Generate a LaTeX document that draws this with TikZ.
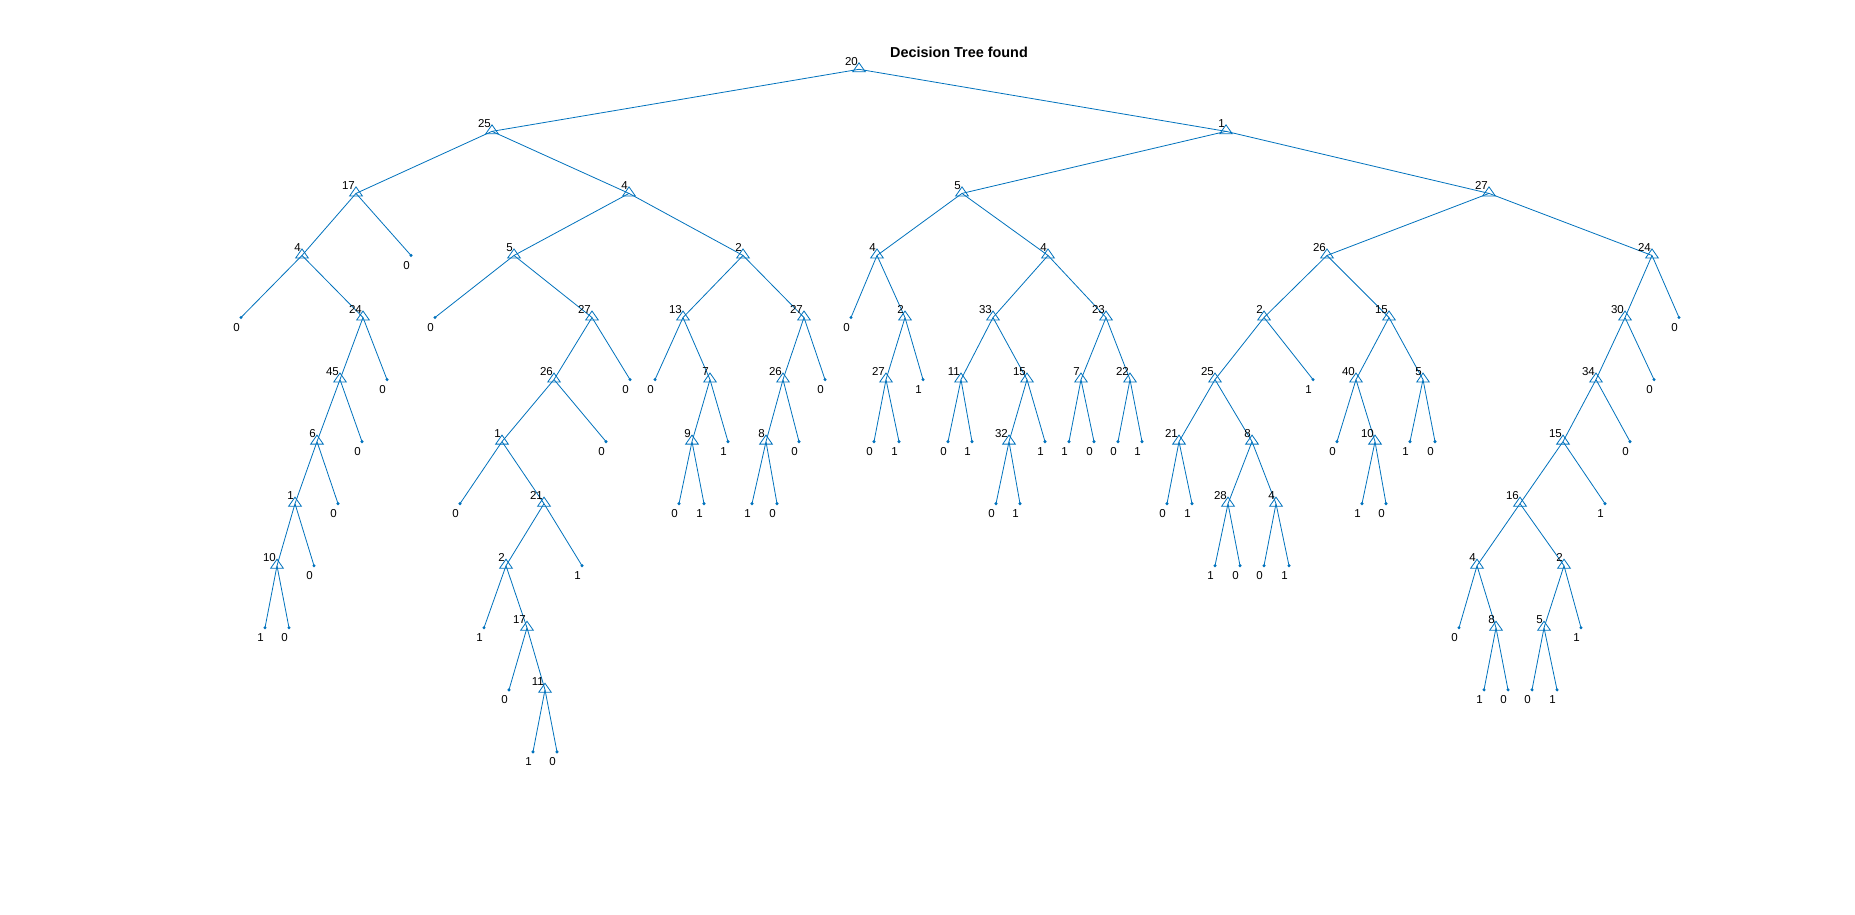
\documentclass[tikz,border=0pt]{standalone}
\usepackage{fontspec}
\setmainfont{Liberation Sans}
\definecolor{mblue}{RGB}{0,114,189}
\tikzset{
  edge/.style={draw=mblue, line width=0.8pt},
  trimark/.style={draw=mblue, line width=0.8pt, line join=miter},
  dotmark/.style={circle, fill=mblue, inner sep=0pt, minimum size=3.4pt},
  numlab/.style={anchor=base east, inner sep=0pt, text=black, font=\fontsize{11.5}{12}\selectfont},
  titlelab/.style={anchor=base, inner sep=0pt, text=black, font=\bfseries\fontsize{14.4}{16}\selectfont}
}
% internal node: name, parent, x, level, text
\newcommand\IN[5]{%
  \coordinate (#1) at (#3,{69.3+62.05*#4});
  \draw[edge] (#2) -- (#1);
  \draw[trimark] (#1) ++(-6.3,2.5) -- ++(12.6,0) -- ++(-6.3,-9) -- cycle;
  \node[numlab, xshift=-1pt, yshift=4pt] (#1t) at (#1) {#5};
}
% leaf: name, parent, x, level, text
\newcommand\LF[5]{%
  \coordinate (#1) at (#3,{69.3+62.05*#4});
  \draw[edge] (#2) -- (#1);
  \node[dotmark] (#1d) at (#1) {};
  \node[numlab, xshift=-1pt, yshift=-14pt] (#1t) at (#1) {#5};
}
\begin{document}
\begin{tikzpicture}[x=1pt,y=-1pt]
\fill[white] (0,0) rectangle (1855,915);
\useasboundingbox (0,0) rectangle (1855,915);
\node[titlelab] (title) at (959,57.3) {Decision Tree found};
% root
\coordinate (n0) at (859,69.3);
\draw[trimark] (n0) ++(-6.3,2.5) -- ++(12.6,0) -- ++(-6.3,-9) -- cycle;
\node[numlab, xshift=-1pt, yshift=4pt] (n0t) at (n0) {20};
% left subtree
\IN{n1}{n0}{492}{1}{25}
\IN{n2}{n1}{356}{2}{17}
\IN{n3}{n2}{302}{3}{4}
\LF{n4}{n3}{241}{4}{0}
\IN{n5}{n3}{363}{4}{24}
\IN{n6}{n5}{340}{5}{45}
\IN{n7}{n6}{317}{6}{6}
\IN{n8}{n7}{295}{7}{1}
\IN{n9}{n8}{277}{8}{10}
\LF{n10}{n9}{265}{9}{1}
\LF{n11}{n9}{289}{9}{0}
\LF{n12}{n8}{314}{8}{0}
\LF{n13}{n7}{338}{7}{0}
\LF{n14}{n6}{362}{6}{0}
\LF{n15}{n5}{387}{5}{0}
\LF{n16}{n2}{411}{3}{0}
\IN{n17}{n1}{629}{2}{4}
\IN{n18}{n17}{514}{3}{5}
\LF{n19}{n18}{435}{4}{0}
\IN{n20}{n18}{592}{4}{27}
\IN{n21}{n20}{554}{5}{26}
\IN{n22}{n21}{502}{6}{1}
\LF{n23}{n22}{460}{7}{0}
\IN{n24}{n22}{544}{7}{21}
\IN{n25}{n24}{506}{8}{2}
\LF{n26}{n25}{484}{9}{1}
\IN{n27}{n25}{527}{9}{17}
\LF{n28}{n27}{509}{10}{0}
\IN{n29}{n27}{545}{10}{11}
\LF{n30}{n29}{533}{11}{1}
\LF{n31}{n29}{557}{11}{0}
\LF{n32}{n24}{582}{8}{1}
\LF{n33}{n21}{606}{6}{0}
\LF{n34}{n20}{630}{5}{0}
\IN{n35}{n17}{743}{3}{2}
\IN{n36}{n35}{683}{4}{13}
\LF{n37}{n36}{655}{5}{0}
\IN{n38}{n36}{710}{5}{7}
\IN{n39}{n38}{692}{6}{9}
\LF{n40}{n39}{679}{7}{0}
\LF{n41}{n39}{704}{7}{1}
\LF{n42}{n38}{728}{6}{1}
\IN{n43}{n35}{804}{4}{27}
\IN{n44}{n43}{783}{5}{26}
\IN{n45}{n44}{766}{6}{8}
\LF{n46}{n45}{752}{7}{1}
\LF{n47}{n45}{777}{7}{0}
\LF{n48}{n44}{799}{6}{0}
\LF{n49}{n43}{825}{5}{0}
% right subtree
\IN{n50}{n0}{1226}{1}{1}
\IN{n51}{n50}{962}{2}{5}
\IN{n52}{n51}{877}{3}{4}
\LF{n53}{n52}{851}{4}{0}
\IN{n54}{n52}{905}{4}{2}
\IN{n55}{n54}{886}{5}{27}
\LF{n56}{n55}{874}{6}{0}
\LF{n57}{n55}{899}{6}{1}
\LF{n58}{n54}{923}{5}{1}
\IN{n59}{n51}{1048}{3}{4}
\IN{n60}{n59}{993}{4}{33}
\IN{n61}{n60}{961}{5}{11}
\LF{n62}{n61}{948}{6}{0}
\LF{n63}{n61}{972}{6}{1}
\IN{n64}{n60}{1027}{5}{15}
\IN{n65}{n64}{1009}{6}{32}
\LF{n66}{n65}{996}{7}{0}
\LF{n67}{n65}{1020}{7}{1}
\LF{n68}{n64}{1045}{6}{1}
\IN{n69}{n59}{1106}{4}{23}
\IN{n70}{n69}{1081}{5}{7}
\LF{n71}{n70}{1069}{6}{1}
\LF{n72}{n70}{1094}{6}{0}
\IN{n73}{n69}{1130}{5}{22}
\LF{n74}{n73}{1118}{6}{0}
\LF{n75}{n73}{1142}{6}{1}
\IN{n76}{n50}{1489}{2}{27}
\IN{n77}{n76}{1327}{3}{26}
\IN{n78}{n77}{1264}{4}{2}
\IN{n79}{n78}{1215}{5}{25}
\IN{n80}{n79}{1179}{6}{21}
\LF{n81}{n80}{1167}{7}{0}
\LF{n82}{n80}{1192}{7}{1}
\IN{n83}{n79}{1252}{6}{8}
\IN{n84}{n83}{1228}{7}{28}
\LF{n85}{n84}{1215}{8}{1}
\LF{n86}{n84}{1240}{8}{0}
\IN{n87}{n83}{1276}{7}{4}
\LF{n88}{n87}{1264}{8}{0}
\LF{n89}{n87}{1289}{8}{1}
\LF{n90}{n78}{1313}{5}{1}
\IN{n91}{n77}{1389}{4}{15}
\IN{n92}{n91}{1356}{5}{40}
\LF{n93}{n92}{1337}{6}{0}
\IN{n94}{n92}{1375}{6}{10}
\LF{n95}{n94}{1362}{7}{1}
\LF{n96}{n94}{1386}{7}{0}
\IN{n97}{n91}{1423}{5}{5}
\LF{n98}{n97}{1410}{6}{1}
\LF{n99}{n97}{1435}{6}{0}
\IN{n100}{n76}{1652}{3}{24}
\IN{n101}{n100}{1625}{4}{30}
\IN{n102}{n101}{1596}{5}{34}
\IN{n103}{n102}{1563}{6}{15}
\IN{n104}{n103}{1520}{7}{16}
\IN{n105}{n104}{1477}{8}{4}
\LF{n106}{n105}{1459}{9}{0}
\IN{n107}{n105}{1496}{9}{8}
\LF{n108}{n107}{1484}{10}{1}
\LF{n109}{n107}{1508}{10}{0}
\IN{n110}{n104}{1564}{8}{2}
\IN{n111}{n110}{1544}{9}{5}
\LF{n112}{n111}{1532}{10}{0}
\LF{n113}{n111}{1557}{10}{1}
\LF{n114}{n110}{1581}{9}{1}
\LF{n115}{n103}{1605}{7}{1}
\LF{n116}{n102}{1630}{6}{0}
\LF{n117}{n101}{1654}{5}{0}
\LF{n118}{n100}{1679}{4}{0}
\end{tikzpicture}
\end{document}
